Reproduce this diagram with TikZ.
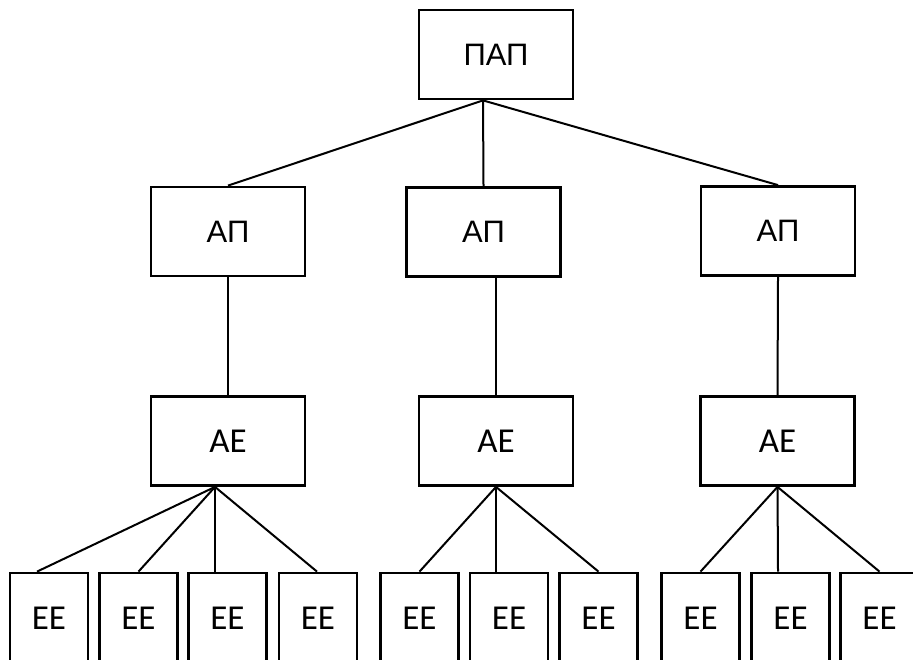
\documentclass[tikz,border=0pt]{standalone}
\usepackage{fontspec}
\setmainfont{Carlito}
\newfontfamily\apfont{Liberation Sans}
\begin{document}
\begin{tikzpicture}[x=0.5pt, y=-0.5pt, line width=1pt,
		box/.style={draw, line width=1.4pt, minimum width=77pt, minimum height=44.5pt, inner sep=0pt, font=\fontsize{17.5}{19}\selectfont},
		topbox/.style={box, font=\apfont\fontsize{15.5}{17}\selectfont},
		leaf/.style={box, minimum width=39pt, minimum height=45pt}]
		% Frame
		\useasboundingbox (0,0) rectangle (913,659);
		\clip (0,0) rectangle (913,659);
		
		% Boxes
		\node[topbox] (pap) at (496,54.5) {ПАП};
		\node[topbox] (ap1) at (228,231.5) {АП};
		\node[topbox] (ap2) at (483.5,232) {АП};
		\node[topbox] (ap3) at (778,231) {АП};
		\node[box] (ae1) at (228,441) {АЕ};
		\node[box] (ae2) at (496,441) {АЕ};
		\node[box] (ae3) at (777.5,441) {АЕ};
		\foreach \x [count=\i] in {49,138.5,227.5,318,419.5,509,598.5,700.5,790.5,879.5}
		\node[leaf] (ee\i) at (\x,618) {ЕЕ};
		
		% Links
		\coordinate (papjoin) at ([xshift=-6.5pt]pap.south);
		\foreach \a in {ap1,ap2,ap3}
		\draw (papjoin) -- (\a.north);
		\draw (ap1.south) -- (ae1.north);
		\draw (ae2.north) -- (ae2.north |- ap2.south);
		\draw (ap3.south) -- (ae3.north);
		
		\coordinate (aejoin) at ([xshift=-6.5pt]ae1.south);
		\foreach \e/\s in {ee1/-6pt,ee2/0pt,ee3/-6.25pt,ee4/-0.5pt}
		\draw (aejoin) -- ([xshift=\s]\e.north);
		\foreach \e/\s in {ee5/0pt,ee6/-6.5pt,ee7/0pt}
		\draw (ae2.south) -- ([xshift=\s]\e.north);
		\foreach \e/\s in {ee8/0pt,ee9/-6.25pt,ee10/0pt}
		\draw (ae3.south) -- ([xshift=\s]\e.north);
	\end{tikzpicture}
\end{document}
